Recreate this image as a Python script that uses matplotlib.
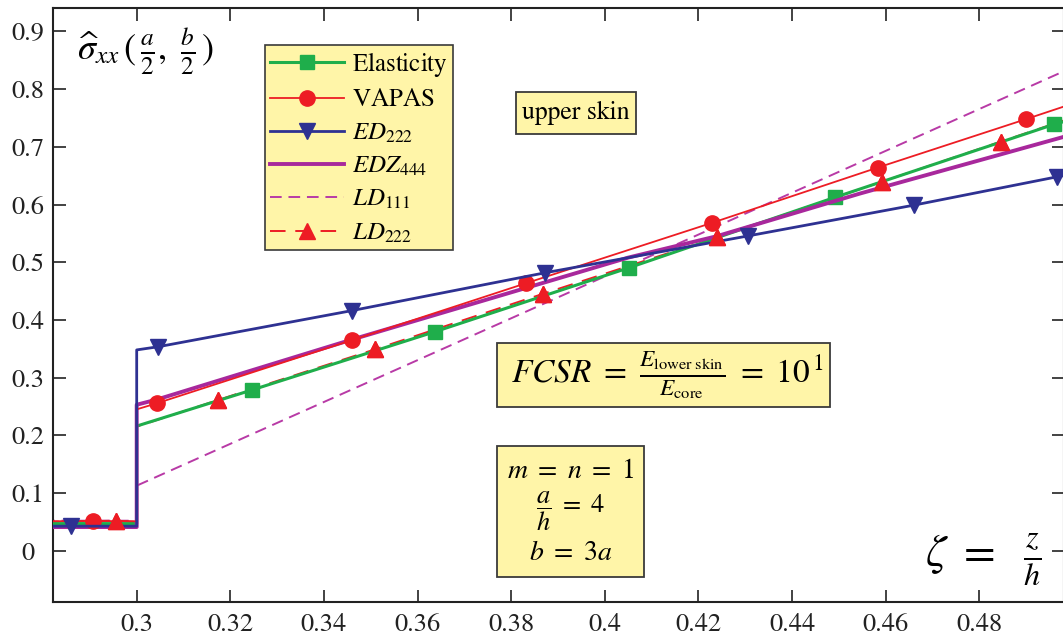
import matplotlib
matplotlib.use("Agg")
import matplotlib.pyplot as plt
from matplotlib.patches import Rectangle

plt.rcParams['font.family'] = ['STIXGeneral', 'DejaVu Serif']
plt.rcParams['mathtext.fontset'] = 'stix'

# ---------------- data ----------------
elas_z = [0.280, 0.300, 0.300, 0.3246, 0.3637, 0.4052, 0.4492, 0.4960, 0.500]
elas_v = [0.047, 0.047, 0.216, 0.2785, 0.3795, 0.4905, 0.6125, 0.739, 0.748]
elas_mk = [3, 4, 5, 6, 7]

vapas_z = [0.280, 0.2906, 0.300, 0.300, 0.3043, 0.346, 0.3831, 0.423, 0.4583, 0.490, 0.500]
vapas_v = [0.051, 0.0515, 0.051, 0.245, 0.2555, 0.365, 0.4634, 0.5685, 0.664, 0.748, 0.775]
vapas_mk = [1, 4, 5, 6, 7, 8, 9]

ed_z = [0.280, 0.2859, 0.300, 0.300, 0.3046, 0.3459, 0.3873, 0.4305, 0.4661, 0.4966, 0.500]
ed_v = [0.0425, 0.0425, 0.0425, 0.348, 0.3535, 0.416, 0.4818, 0.5454, 0.599, 0.648, 0.653]
ed_mk = [1, 4, 5, 6, 7, 8, 9]

edz_z = [0.280, 0.300, 0.300, 0.3043, 0.346, 0.383, 0.405, 0.4239, 0.4545, 0.4977, 0.500]
edz_v = [0.041, 0.041, 0.253, 0.262, 0.366, 0.455, 0.508, 0.545, 0.619, 0.7165, 0.722]

ld111_z = [0.280, 0.300, 0.300, 0.500]
ld111_v = [0.052, 0.052, 0.1127, 0.838]

ld222_z = [0.280, 0.2956, 0.300, 0.300, 0.3173, 0.3509, 0.3867, 0.4239, 0.4592, 0.4846, 0.500]
ld222_v = [0.050, 0.052, 0.050, 0.215, 0.261, 0.349, 0.445, 0.543, 0.6395, 0.709, 0.751]
ld222_mk = [1, 4, 5, 6, 7, 8, 9]

x_ticks = [0.30, 0.32, 0.34, 0.36, 0.38, 0.40, 0.42, 0.44, 0.46, 0.48]
x_labels = ['0.3', '0.32', '0.34', '0.36', '0.38', '0.4', '0.42', '0.44', '0.46', '0.48']
y_ticks = [0.0, 0.1, 0.2, 0.3, 0.4, 0.5, 0.6, 0.7, 0.8, 0.9]
y_labels = ['0', '0.1', '0.2', '0.3', '0.4', '0.5', '0.6', '0.7', '0.8', '0.9']

labels = [r'$\mathrm{Elasticity}$', r'$\mathrm{VAPAS}$', r'$ED_{222}$', r'$EDZ_{444}$',
          r'$LD_{111}$', r'$LD_{222}$']

# ---------------- figure ----------------
W, H = 1063, 643
fig = plt.figure(figsize=(W / 100, H / 100), dpi=100)

def fx(px):
    return px / W

def fy(py):
    return 1 - py / H

ax = fig.add_axes([fx(53), fy(602), fx(1064) - fx(53), fy(8) - fy(602)])
ax.set_xlim(0.28212, 0.49810)
ax.set_ylim(-0.0889, 0.9406)

GREEN = '#1fae4b'
RED = '#ed1c24'
BLUE = '#2e3192'
MAG = '#a8289c'
MAG2 = '#b83aa6'

l_ld111, = ax.plot(ld111_z, ld111_v, color=MAG2, lw=1.4, dashes=(6, 3.5), label=labels[4], zorder=2)
l_ld222, = ax.plot(ld222_z, ld222_v, color=RED, lw=1.4, dashes=(8, 5), marker='^', ms=12,
                   markevery=ld222_mk, label=labels[5], zorder=3)
l_elas, = ax.plot(elas_z, elas_v, color=GREEN, lw=2.2, marker='s', ms=10,
                  markevery=elas_mk, label=labels[0], zorder=4)
l_edz, = ax.plot(edz_z, edz_v, color=MAG, lw=2.8, label=labels[3], zorder=4)
l_vap, = ax.plot(vapas_z, vapas_v, color=RED, lw=1.3, marker='o', ms=11,
                 markevery=vapas_mk, label=labels[1], zorder=5)
l_ed, = ax.plot(ed_z, ed_v, color=BLUE, lw=2.0, marker='v', ms=12,
                markevery=ed_mk, label=labels[2], zorder=5)
# markers of LD222 on top of the green line
ax.plot([ld222_z[i] for i in ld222_mk], [ld222_v[i] for i in ld222_mk], ls='none',
        marker='^', ms=12, color=RED, zorder=6)

ax.set_xticks(x_ticks)
ax.set_xticklabels(x_labels)
ax.set_yticks(y_ticks)
ax.set_yticklabels(y_labels)
ax.tick_params(direction='in', top=True, right=True, length=9, width=1.2,
               labelsize=19, colors='#222222')
ax.tick_params(axis='y', pad=18)
ax.tick_params(axis='x', pad=8)
for lab in ax.get_yticklabels():
    lab.set_horizontalalignment('center')
for sp in ax.spines.values():
    sp.set_linewidth(1.5)
    sp.set_color('#222222')

YEL = '#fff5a8'
EDGE = '#3a3a3a'

handles = [l_elas, l_vap, l_ed, l_edz, l_ld111, l_ld222]
leg = ax.legend(handles, labels, loc='upper left', bbox_to_anchor=(fx(265), fy(45)),
                bbox_transform=fig.transFigure, borderaxespad=0, fontsize=18,
                handlelength=2.95, handletextpad=0.33, labelspacing=0.37,
                borderpad=0.2, numpoints=1, fancybox=False, framealpha=1)
leg.get_frame().set_facecolor(YEL)
leg.get_frame().set_edgecolor(EDGE)
leg.get_frame().set_linewidth(1.2)

def box(x0, y0, x1, y1):
    r = Rectangle((fx(x0), fy(y1)), fx(x1) - fx(x0), fy(y0) - fy(y1), transform=fig.transFigure,
                  facecolor=YEL, edgecolor=EDGE, lw=1.3, zorder=4)
    fig.add_artist(r)

box(516, 92, 636, 134)
fig.text(fx(576), fy(113), 'upper skin', fontsize=18.5, ha='center', va='center', zorder=5)

box(497, 343, 830, 407)
fig.text(fx(667), fy(375), r'$FCSR\ =\ \frac{E_{\mathrm{lower\ skin}}}{E_{\mathrm{core}}}\ =\ 10^{\,1}$',
         fontsize=24, ha='center', va='center', zorder=5)

box(497, 446, 644, 577)
fig.text(fx(571), fy(471), r'$m\ =\ n\ =\ 1$', fontsize=20, ha='center', va='center', zorder=5)
fig.text(fx(571), fy(511), r'$\dfrac{a}{h}\ =\ 4$', fontsize=19, ha='center', va='center', zorder=5)
fig.text(fx(571), fy(553), r'$b\ =\ 3a$', fontsize=20, ha='center', va='center', zorder=5)

fig.text(fx(77), fy(52), r'$\widehat{\sigma}_{xx}\,(\,\frac{a}{2},\ \frac{b}{2}\,)$', fontsize=26,
         ha='left', va='center', zorder=5)
fig.text(fx(983), fy(560), r'$\zeta\ =\ \ \frac{z}{h}$', fontsize=33,
         ha='center', va='center', zorder=5)

fig.savefig('out.png', dpi=100)
